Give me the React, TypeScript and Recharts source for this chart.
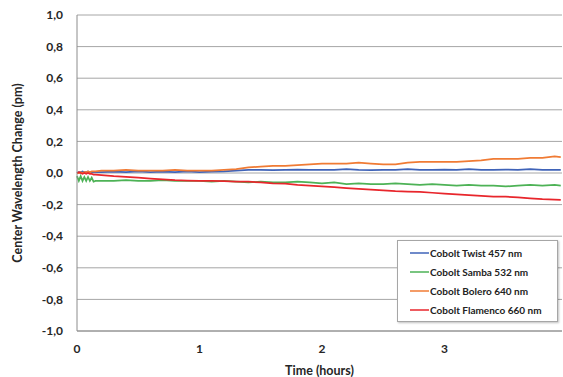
import { CartesianGrid, Legend, Line, LineChart, XAxis, YAxis } from "recharts";

const time = [
  0, 0.015, 0.03, 0.045, 0.06, 0.075, 0.09, 0.105, 0.12, 0.135, 0.15,
  0.2, 0.3, 0.4, 0.5, 0.6, 0.7, 0.8, 0.9, 1.0,
  1.1, 1.2, 1.3, 1.4, 1.5, 1.6, 1.7, 1.8, 1.9,
  2.0, 2.1, 2.2, 2.3, 2.4, 2.5, 2.6, 2.7, 2.8, 2.9,
  3.0, 3.1, 3.2, 3.3, 3.4, 3.5, 3.6, 3.7, 3.8, 3.9,
  3.95,
];

const twist = [
  0, 0.005, 0.005, 0.01, 0.005, 0.005, 0.01, 0.005, 0.005, 0.005, 0.005,
  0.005, 0.008, 0.005, 0.01, 0.005, 0.008, 0.005, 0.01, 0.005,
  0.008, 0.01, 0.015, 0.02, 0.02, 0.018, 0.02, 0.022, 0.02,
  0.02, 0.02, 0.025, 0.02, 0.018, 0.02, 0.02, 0.025, 0.02, 0.02,
  0.022, 0.02, 0.025, 0.02, 0.02, 0.022, 0.02, 0.025, 0.02, 0.02,
  0.02,
];

const samba = [
  -0.02, -0.05, -0.02, -0.05, -0.025, -0.05, -0.025, -0.05, -0.03, -0.055, -0.05,
  -0.05, -0.05, -0.045, -0.05, -0.05, -0.045, -0.05, -0.05, -0.05,
  -0.055, -0.05, -0.055, -0.06, -0.055, -0.06, -0.06, -0.055, -0.06,
  -0.065, -0.06, -0.07, -0.065, -0.07, -0.07, -0.065, -0.07, -0.075, -0.07,
  -0.075, -0.08, -0.075, -0.08, -0.08, -0.085, -0.08, -0.075, -0.08, -0.075,
  -0.08,
];

const bolero = [
  0, 0, 0.005, 0, 0.005, 0.005, 0.01, 0.005, 0.01, 0.01, 0.01,
  0.015, 0.015, 0.02, 0.015, 0.015, 0.015, 0.02, 0.015, 0.015,
  0.015, 0.02, 0.025, 0.035, 0.04, 0.045, 0.045, 0.05, 0.055,
  0.06, 0.06, 0.06, 0.065, 0.06, 0.055, 0.055, 0.065, 0.07, 0.07,
  0.07, 0.07, 0.075, 0.08, 0.09, 0.09, 0.09, 0.095, 0.095, 0.105,
  0.1,
];

const flamenco = [
  0, 0.005, 0, -0.005, 0, -0.005, 0, -0.005, -0.005, -0.01, -0.01,
  -0.013, -0.02, -0.025, -0.03, -0.035, -0.04, -0.045, -0.048, -0.05,
  -0.05, -0.052, -0.055, -0.055, -0.06, -0.065, -0.068, -0.075, -0.08,
  -0.085, -0.09, -0.095, -0.1, -0.105, -0.11, -0.115, -0.118, -0.12, -0.125,
  -0.13, -0.135, -0.14, -0.145, -0.15, -0.15, -0.155, -0.16, -0.165, -0.168,
  -0.17,
];

const yTicks = [-1, -0.8, -0.6, -0.4, -0.2, 0, 0.2, 0.4, 0.6, 0.8, 1];
const xTicks = [0, 1, 2, 3];

const series = [
  { key: "twist", name: "Cobolt Twist 457 nm", color: "#3f63b8" },
  { key: "samba", name: "Cobolt Samba 532 nm", color: "#4db256" },
  { key: "bolero", name: "Cobolt Bolero 640 nm", color: "#f07b34" },
  { key: "flamenco", name: "Cobolt Flamenco 660 nm", color: "#e8262c" },
];

const data = time.map((t, i) => ({
  t,
  twist: twist[i],
  samba: samba[i],
  bolero: bolero[i],
  flamenco: flamenco[i],
}));

const font = "Lato, 'Open Sans', sans-serif";
const tickStyle = { fill: "#262626", fontSize: 12, fontWeight: 700, fontFamily: font };

function LegendBox() {
  return (
    <div
      style={{
        border: "1px solid #a6a6a6",
        background: "#fff",
        boxShadow: "1px 1px 2px rgba(0,0,0,0.25)",
        padding: "2px 0 2px 12px",
        fontFamily: font,
        fontSize: 10,
        fontWeight: 700,
        color: "#222",
      }}
    >
      {series.map((s) => (
        <div key={s.key} style={{ display: "flex", alignItems: "center", height: 19 }}>
          <svg width={19} height={4} style={{ marginRight: 1 }}>
            <line x1={0} y1={2} x2={19} y2={2} stroke={s.color} strokeWidth={1.5} />
          </svg>
          <span>{s.name}</span>
        </div>
      ))}
    </div>
  );
}

export default function App() {
  return (
    <div>
      <style>{"body{margin:0;background:#fff}"}</style>
      <LineChart
        width={563}
        height={377}
        data={data}
        margin={{ top: 15, right: 1, bottom: 0, left: 0 }}
      >
        <CartesianGrid vertical={false} stroke="#a6a6a6" strokeWidth={1} />
        <XAxis
          dataKey="t"
          type="number"
          domain={[0, 3.96]}
          ticks={xTicks}
          height={46}
          tickLine={false}
          axisLine={{ stroke: "#8c8c8c" }}
          tickMargin={7}
          tick={tickStyle}
          label={{
            value: "Time (hours)",
            position: "insideBottom",
            offset: 2,
            ...tickStyle,
            fontSize: 12.5,
          }}
        />
        <YAxis
          type="number"
          domain={[-1, 1]}
          ticks={yTicks}
          width={77}
          tickLine={false}
          axisLine={{ stroke: "#8c8c8c" }}
          tickMargin={8}
          tickFormatter={(v: number) => v.toFixed(1).replace(".", ",")}
          tick={tickStyle}
          label={{
            value: "Center Wavelength Change (pm)",
            angle: -90,
            position: "insideLeft",
            offset: 18,
            style: { textAnchor: "middle" },
            ...tickStyle,
            fontSize: 12.5,
          }}
        />
        {series.map((s) => (
          <Line
            key={s.key}
            dataKey={s.key}
            name={s.name}
            type="linear"
            stroke={s.color}
            strokeWidth={1.75}
            dot={false}
            isAnimationActive={false}
          />
        ))}
        <Legend
          layout="horizontal"
          verticalAlign="middle"
          align="center"
          content={() => <LegendBox />}
          wrapperStyle={{ left: 397, top: 240, width: 161, height: "auto" }}
        />
      </LineChart>
    </div>
  );
}
